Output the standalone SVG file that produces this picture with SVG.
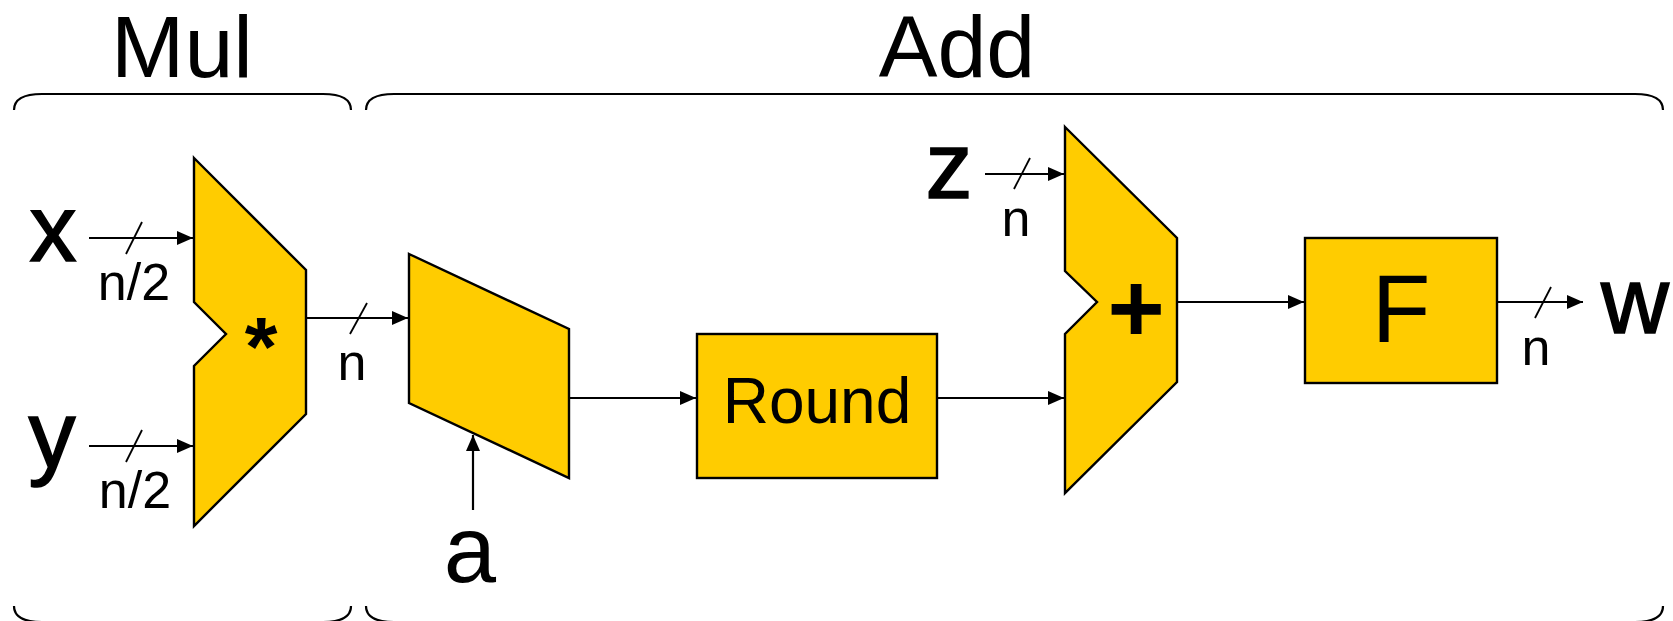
<svg xmlns="http://www.w3.org/2000/svg" width="1673" height="621" viewBox="0 0 1673 621">
<style>
.blk{fill:#FFCC00;stroke:#000;stroke-width:2.4;stroke-linejoin:miter}
.br{fill:none;stroke:#000;stroke-width:2.2}
.cn{fill:none;stroke:#000;stroke-width:2.2;marker-end:url(#ah)}
.sl{stroke:#000;stroke-width:1.8}
text{font-family:"Liberation Sans",Arial,sans-serif;fill:#000;text-anchor:middle}
.big{font-size:88px}
.var{font-size:94px}
.hv{stroke:#000;stroke-width:1.6}
.w{font-size:52px}
.op{font-weight:bold}
</style>
<defs>
<marker id="ah" markerUnits="userSpaceOnUse" markerWidth="18" markerHeight="16" refX="16" refY="7" orient="auto"><path d="M0,0 L16,7 L0,14 z" fill="#000"/></marker>
</defs>
<g id="braces">
<path class="br" d="M14 110 Q14 94 42 94 L323 94 Q351 94 351 110"/>
<path class="br" d="M366 110 Q366 94 394 94 L1635 94 Q1663 94 1663 110"/>
<path class="br" d="M14 606 Q14 622 42 622 L323 622 Q351 622 351 606"/>
<path class="br" d="M366 606 Q366 622 394 622 L1635 622 Q1663 622 1663 606"/>
<text class="big" x="182" y="77">Mul</text>
<text class="big" x="957" y="77">Add</text>
</g>
<g id="mul">
<polygon class="blk" points="194,158 306,270 306,414 194,526 194,366 226,334 194,302"/>
<text class="op" x="261" y="376" font-size="84">*</text>
</g>
<g id="shift">
<polygon class="blk" points="409,254 569,329 569,478 409,403"/>
</g>
<g id="round">
<rect class="blk" x="697" y="334" width="240" height="144"/>
<text x="817" y="423" font-size="64">Round</text>
</g>
<g id="adder">
<polygon class="blk" points="1065,127 1177,238 1177,382 1065,493 1065,334 1097,302 1065,271"/>
<text class="op" x="1136" y="342" font-size="98">+</text>
</g>
<g id="f">
<rect class="blk" x="1305" y="238" width="192" height="145"/>
<text x="1401" y="342" font-size="96">F</text>
</g>
<g id="labels">
<text class="var hv" x="53" y="261">x</text>
<text class="var hv" x="52" y="467">y</text>
<text class="var hv" x="949" y="198">z</text>
<text class="var hv" x="1635" y="333">w</text>
<text class="var" x="470" y="582">a</text>
<text class="w" x="134" y="300">n/2</text>
<text class="w" x="135" y="508">n/2</text>
<text class="w" x="352" y="380">n</text>
<text class="w" x="1016" y="236">n</text>
<text class="w" x="1536" y="365">n</text>
</g>
<g id="connectors">
<line class="cn" x1="89" y1="238" x2="193" y2="238"/>
<line class="cn" x1="89" y1="446" x2="193" y2="446"/>
<line class="cn" x1="306" y1="318" x2="408" y2="318"/>
<line class="cn" x1="569" y1="398" x2="696" y2="398"/>
<line class="cn" x1="473" y1="510" x2="473" y2="435"/>
<line class="cn" x1="937" y1="398" x2="1064" y2="398"/>
<line class="cn" x1="985" y1="174" x2="1064" y2="174"/>
<line class="cn" x1="1177" y1="302" x2="1304" y2="302"/>
<line class="cn" x1="1497" y1="302" x2="1583" y2="302"/>
<line class="sl" x1="126" y1="254" x2="142" y2="222"/>
<line class="sl" x1="126" y1="462" x2="142" y2="430"/>
<line class="sl" x1="350" y1="334" x2="367" y2="303"/>
<line class="sl" x1="1014" y1="189" x2="1030" y2="158"/>
<line class="sl" x1="1535" y1="318" x2="1551" y2="287"/>
</g>
</svg>
